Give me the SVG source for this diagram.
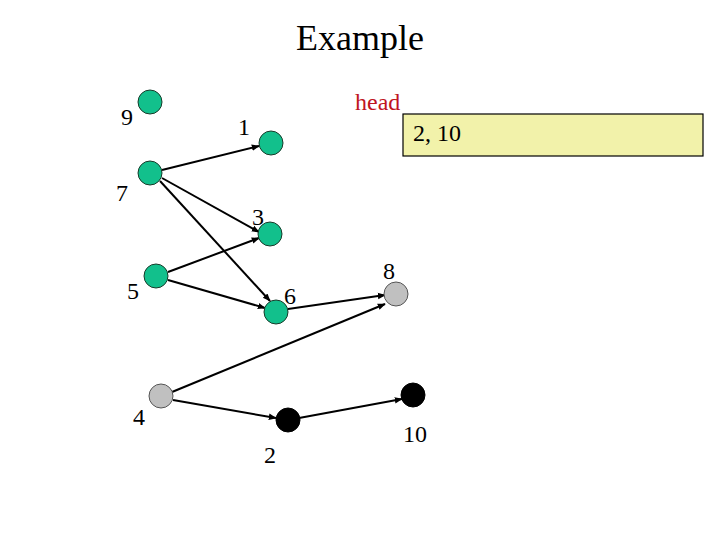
<svg xmlns="http://www.w3.org/2000/svg" width="720" height="540" viewBox="0 0 720 540">
<style>
text{font-family:"Liberation Serif","Times New Roman",serif;fill:#000}
.lbl{font-size:24px}
.g{fill:#12c08c;stroke:#1a3a2a;stroke-width:1}
.s{fill:#c0c0c0;stroke:#555;stroke-width:1}
.b{fill:#000;stroke:#000;stroke-width:1}
.e{stroke:#000;stroke-width:2;fill:none;marker-end:url(#ah)}
</style>
<defs>
<marker id="ah" viewBox="0 0 10 10" refX="9" refY="5" markerWidth="4" markerHeight="4" orient="auto" markerUnits="strokeWidth">
<path d="M0,1 L10,5 L0,9 z" fill="#000"/>
</marker>
</defs>
<rect width="720" height="540" fill="#fff"/>
<text x="360" y="50" font-size="36" text-anchor="middle">Example</text>
<g id="head">
<text x="355" y="110" font-size="24" style="fill:#c0141e">head</text>
<rect x="403" y="114" width="300" height="42" fill="#f2f2aa" stroke="#000" stroke-width="1.2"/>
<text x="413" y="141" class="lbl">2, 10</text>
</g>
<g id="connectors">
<line class="e" x1="162" y1="170" x2="259" y2="146"/>
<line class="e" x1="162" y1="178" x2="259" y2="232"/>
<line class="e" x1="160" y1="181" x2="270" y2="301"/>
<line class="e" x1="168" y1="272" x2="259" y2="238"/>
<line class="e" x1="168" y1="280" x2="265" y2="308"/>
<line class="e" x1="288" y1="309" x2="385" y2="295"/>
<line class="e" x1="172" y1="392" x2="385" y2="304"/>
<line class="e" x1="173" y1="400" x2="276" y2="418"/>
<line class="e" x1="299" y1="418" x2="402" y2="399"/>
</g>
<g id="n9"><circle class="g" cx="150" cy="102" r="12"/><text x="121" y="125" class="lbl">9</text></g>
<g id="n1"><circle class="g" cx="271" cy="143" r="12"/><text x="238" y="135" class="lbl">1</text></g>
<g id="n7"><circle class="g" cx="150" cy="173" r="12"/><text x="116" y="201" class="lbl">7</text></g>
<g id="n3"><circle class="g" cx="270" cy="234" r="12"/><text x="252" y="225" class="lbl">3</text></g>
<g id="n5"><circle class="g" cx="156" cy="276" r="12"/><text x="127" y="299" class="lbl">5</text></g>
<g id="n6"><circle class="g" cx="276" cy="312" r="12"/><text x="284" y="304" class="lbl">6</text></g>
<g id="n8"><circle class="s" cx="396" cy="294" r="12"/><text x="383" y="279" class="lbl">8</text></g>
<g id="n4"><circle class="s" cx="161" cy="396" r="12"/><text x="133" y="425" class="lbl">4</text></g>
<g id="n2"><circle class="b" cx="288" cy="420" r="12"/><text x="264" y="463" class="lbl">2</text></g>
<g id="n10"><circle class="b" cx="413" cy="395" r="12"/><text x="403" y="442" class="lbl">10</text></g>
</svg>
